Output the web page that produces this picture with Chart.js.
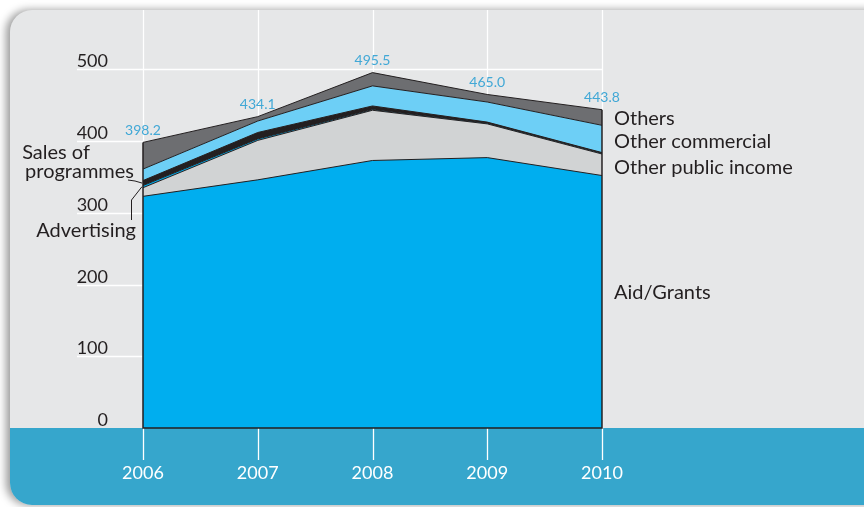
<!DOCTYPE html>
<html>
<head>
<meta charset="utf-8">
<script src="https://cdn.jsdelivr.net/npm/chart.js@4/dist/chart.umd.min.js"></script>
<style>
  html, body { margin: 0; padding: 0; background: #fff; }
  canvas { display: block; }
</style>
</head>
<body>
<canvas id="income" width="864" height="507"></canvas>
<script>
// values (EUR millions)
const years = ['2006', '2007', '2008', '2009', '2010'];
const aidGrants = [323, 346, 373, 377, 352];
const otherPublic = [12, 55, 70, 47, 30];
const advertising = [3, 2, 1, 1, 1];
const salesProgrammes = [7, 9, 5, 1.5, 1];
const otherCommercial = [16, 16, 28, 28, 38];
const others = [37.2, 6.1, 18.5, 10.5, 21.8];
const totals = [398.2, 434.1, 495.5, 465.0, 443.8];
const yTicks = [0, 100, 200, 300, 400, 500];

const FONT = 'Lato, "Noto Sans", sans-serif';
const INK = '#231F20';

function layer(label, data, color, first) {
    return {
        label: label,
        data: data,
        backgroundColor: color,
        borderColor: INK,
        borderWidth: 1,
        pointRadius: 0,
        tension: 0,
        fill: first ? 'origin' : '-1'
    };
}

const backdrop = {
    id: 'backdrop',
    beforeDraw(chart) {
        const ctx = chart.ctx;
        const x = chart.scales.x, y = chart.scales.y;
        const area = chart.chartArea;
        ctx.save();
        ctx.fillStyle = '#fff';
        ctx.fillRect(0, 0, chart.width, chart.height);

        // grey panel with soft shadow on the left
        ctx.beginPath();
        ctx.roundRect(10, 10, 900, 495, [22, 0, 0, 22]);
        ctx.shadowColor = 'rgba(0,0,0,0.4)';
        ctx.shadowBlur = 9;
        ctx.shadowOffsetX = -4;
        ctx.fillStyle = '#E6E7E8';
        ctx.fill();
        ctx.shadowColor = 'transparent';

        // blue band under the axis
        ctx.save();
        ctx.clip();
        ctx.fillStyle = '#36A6CC';
        ctx.fillRect(0, area.bottom, chart.width, chart.height);
        ctx.restore();

        // vertical white lines
        ctx.strokeStyle = '#fff';
        ctx.lineWidth = 1.3;
        years.forEach((yr, i) => {
            const px = Math.round(x.getPixelForValue(i)) + 0.5;
            ctx.beginPath();
            ctx.moveTo(px, 10);
            ctx.lineTo(px, area.bottom + 32);
            ctx.stroke();
        });

        // horizontal lines and y labels
        ctx.font = '18px ' + FONT;
        ctx.fillStyle = INK;
        ctx.textAlign = 'right';
        ctx.textBaseline = 'alphabetic';
        yTicks.forEach(v => {
            const py = Math.round(y.getPixelForValue(v)) + 0.5;
            if (v > 0) {
                ctx.beginPath();
                ctx.moveTo(77, py);
                ctx.lineTo(area.right, py);
                ctx.stroke();
            }
            ctx.fillText(String(v), 108, py - 3);
        });
        ctx.restore();
    },
    afterDatasetsDraw(chart) {
        const ctx = chart.ctx;
        const x = chart.scales.x, y = chart.scales.y;
        const area = chart.chartArea;
        ctx.save();

        // outline of the stack
        ctx.strokeStyle = INK;
        ctx.lineWidth = 1.5;
        ctx.beginPath();
        ctx.moveTo(x.getPixelForValue(0), y.getPixelForValue(totals[0]));
        ctx.lineTo(x.getPixelForValue(0), area.bottom);
        ctx.lineTo(x.getPixelForValue(years.length - 1), area.bottom);
        ctx.lineTo(x.getPixelForValue(years.length - 1), y.getPixelForValue(totals[years.length - 1]));
        ctx.stroke();

        // totals
        ctx.font = '14px ' + FONT;
        ctx.fillStyle = '#41A8D6';
        ctx.textAlign = 'center';
        ctx.textBaseline = 'middle';
        totals.forEach((t, i) => {
            ctx.fillText(t.toFixed(1), x.getPixelForValue(i), y.getPixelForValue(t) - 12);
        });

        // year labels
        ctx.font = '18px ' + FONT;
        ctx.fillStyle = '#fff';
        years.forEach((yr, i) => {
            ctx.fillText(yr, x.getPixelForValue(i), area.bottom + 45);
        });

        // series names on the right
        ctx.fillStyle = INK;
        ctx.textAlign = 'left';
        ctx.font = '20px ' + FONT;
        const rx = area.right + 12;
        ctx.fillText('Others', rx, 119);
        ctx.fillText('Other commercial', rx, 142);
        ctx.fillText('Other public income', rx, 168);
        ctx.fillText('Aid/Grants', rx, 293);

        // series names on the left with leaders
        ctx.textAlign = 'right';
        ctx.fillText('Sales of', 90, 153);
        ctx.fillText('programmes', 134, 172);
        ctx.fillText('Advertising', 136, 231);

        const x0 = x.getPixelForValue(0);
        const base = aidGrants[0] + otherPublic[0];
        const salesY = y.getPixelForValue(base + advertising[0] + salesProgrammes[0] / 2);
        const advY = y.getPixelForValue(base + advertising[0] / 2);
        ctx.strokeStyle = INK;
        ctx.lineWidth = 1;
        ctx.beginPath();
        ctx.moveTo(128, 180);
        ctx.lineTo(135, 181);
        ctx.lineTo(x0 - 1, salesY);
        ctx.stroke();
        ctx.beginPath();
        ctx.moveTo(131.5, 220);
        ctx.lineTo(131.5, 200);
        ctx.lineTo(x0 - 1, advY);
        ctx.stroke();

        ctx.restore();
    }
};

new Chart(document.getElementById('income').getContext('2d'), {
    type: 'line',
    data: {
        labels: years,
        datasets: [
            layer('Aid/Grants', aidGrants, '#00AEEF', true),
            layer('Other public income', otherPublic, '#D1D3D4'),
            layer('Advertising', advertising, '#00AEEF'),
            layer('Sales of programmes', salesProgrammes, INK),
            layer('Other commercial', otherCommercial, '#6DCFF6'),
            layer('Others', others, '#6D6E71')
        ]
    },
    options: {
        responsive: false,
        animation: false,
        layout: {
            padding: { left: 143, right: 262, top: 12, bottom: 79 }
        },
        scales: {
            x: { display: false, offset: false },
            y: { display: false, stacked: true, min: 0, max: 580 }
        },
        plugins: {
            legend: { display: false },
            tooltip: { enabled: false }
        }
    },
    plugins: [backdrop]
});
</script>
</body>
</html>
